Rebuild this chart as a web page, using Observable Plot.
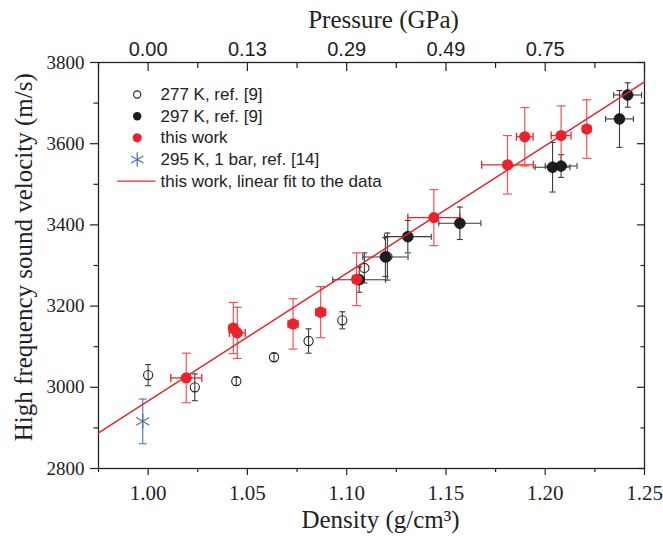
<!DOCTYPE html>
<html><head><meta charset="utf-8">
<script src="https://cdn.jsdelivr.net/npm/d3@7"></script>
<script src="https://cdn.jsdelivr.net/npm/@observablehq/plot@0.6"></script>
<style>body{margin:0;background:#fff}</style>
</head><body><div id="chart"></div>
<script>
// ---- tick values ----
const xMajorTicks = [1.00, 1.05, 1.10, 1.15, 1.20, 1.25];
const xMinorTicks = [0.975, 1.025, 1.075, 1.125, 1.175, 1.225];
const yMajorTicks = [2800, 3000, 3200, 3400, 3600, 3800];
const yMinorTicks = [2900, 3100, 3300, 3500, 3700];
const pressureTickDensity = [1.00, 1.05, 1.10, 1.15, 1.20];
const pressureTickLabels = ["0.00", "0.13", "0.29", "0.49", "0.75"];

// ---- 277 K, ref. [9] (open circles) ----
const k277Density = [1.000, 1.0235, 1.0444, 1.0634, 1.0808, 1.0978, 1.1089, 1.1205];
const k277Velocity = [3030, 3000, 3015, 3074, 3114, 3165, 3294, 3322];
const k277VelErr = [26, 33, 10, 10, 30, 21, 37, 58];

// ---- 297 K, ref. [9] (filled black) ----
const k297Density = [1.1063, 1.1195, 1.1308, 1.1570, 1.2037, 1.2080, 1.2374, 1.2415];
const k297Velocity = [3265, 3321, 3371, 3404, 3542, 3545, 3661, 3720];
const k297DenErr = [0.0133, 0.0114, 0.0118, 0.0106, 0.0088, 0.0080, 0.0070, 0.0070];
const k297VelErr = [31, 48, 40, 40, 61, 28, 70, 30];

// ---- this work (red) ----
const workDensity = [1.0192, 1.0429, 1.0449, 1.0730, 1.0869, 1.1050, 1.1439, 1.1810, 1.1897, 1.2080, 1.2209];
const workVelocity = [3023, 3146, 3134, 3156, 3185, 3266, 3418, 3548, 3617, 3620, 3636];
const workDenErr = [0.0078, 0.0020, 0.0040, 0.0025, 0.0025, 0.0020, 0.0131, 0.0130, 0.0042, 0.0050, 0.0020];
const workVelErr = [61, 63, 63, 62, 63, 65, 69, 72, 72, 73, 72];

// ---- 295 K, 1 bar, ref. [14] (blue asterisk) ----
const refDensity = [0.9973];
const refVelocity = [2916];
const refVelErr = [55];

// ---- linear fit ----
const fitDensity = [0.975, 1.25];
const fitVelocity = [2888, 3752];

// ---- legend ----
const legendLabels = ["277 K, ref. [9]", "297 K, ref. [9]", "this work", "295 K, 1 bar, ref. [14]", "this work, linear fit to the data"];

const rows = (d, v, de, ve) => d.map((x, i) => ({
  d: x, v: v[i],
  dlo: de ? x - de[i] : x, dhi: de ? x + de[i] : x,
  vlo: v[i] - (ve ? ve[i] : 0), vhi: v[i] + (ve ? ve[i] : 0)
}));
const open = rows(k277Density, k277Velocity, null, k277VelErr);
const black = rows(k297Density, k297Velocity, k297DenErr, k297VelErr);
const red = rows(workDensity, workVelocity, workDenErr, workVelErr);
const blue = rows(refDensity, refVelocity, null, refVelErr);
const fit = fitDensity.map((d, i) => ({d, v: fitVelocity[i]}));

const hLine = {draw(c, s) { const r = Math.sqrt(s / Math.PI); c.moveTo(-r, 0); c.lineTo(r, 0); }};
const vLine = {draw(c, s) { const r = Math.sqrt(s / Math.PI); c.moveTo(0, -r); c.lineTo(0, r); }};

const RED = "#e8242a", REDBAR = "#ee5358", BLK = "#1e1e1e", BLKBAR = "#3a3a3a", BLUE = "#5270b8";
const serif = "Liberation Serif, Times New Roman, serif";
const sans = "Liberation Sans, Arial, sans-serif";

function vErrMarks(data, color, cap, w) {
  const caps = data.flatMap(r => [{d: r.d, v: r.vlo}, {d: r.d, v: r.vhi}]);
  return [
    Plot.ruleX(data, {x: "d", y1: "vlo", y2: "vhi", stroke: color, strokeWidth: w}),
    Plot.dot(caps, {x: "d", y: "v", symbol: hLine, r: cap, stroke: color, fill: "none", strokeWidth: w})
  ];
}
function hErrMarks(data, color, cap, w) {
  const caps = data.flatMap(r => [{d: r.dlo, v: r.v}, {d: r.dhi, v: r.v}]);
  return [
    Plot.ruleY(data, {y: "v", x1: "dlo", x2: "dhi", stroke: color, strokeWidth: w}),
    Plot.dot(caps, {x: "d", y: "v", symbol: vLine, r: cap, stroke: color, fill: "none", strokeWidth: w})
  ];
}

const legendDy = [32, 53.7, 75.3, 97, 118.7];
const legendMarks = [];
legendLabels.forEach((t, i) => {
  legendMarks.push(Plot.text([t], {text: d => d, frameAnchor: "top-left", dx: 62, dy: legendDy[i], textAnchor: "start", lineAnchor: "middle", fontSize: 17, fontFamily: sans, fill: "#222"}));
});
const sym = (opts, i) => Plot.dot([0], {frameAnchor: "top-left", dx: 38.7, dy: legendDy[i], ...opts});
legendMarks.push(
  sym({r: 3.6, stroke: "#222", fill: "none", strokeWidth: 1.1}, 0),
  sym({r: 4.2, fill: BLK, stroke: "none"}, 1),
  sym({r: 4.6, fill: RED, stroke: "none"}, 2),
  sym({symbol: "asterisk", r: 6.8, stroke: BLUE, strokeWidth: 1.2}, 3),
  Plot.dot([0], {frameAnchor: "top-left", dx: 37.8, dy: legendDy[4], symbol: hLine, r: 19.2, stroke: RED, strokeWidth: 1.3, fill: "none"})
);

const chart = Plot.plot({
  width: 663, height: 536,
  marginLeft: 98, marginRight: 19, marginTop: 62, marginBottom: 68,
  x: {domain: [0.975, 1.25]},
  y: {domain: [2800, 3800]},
  style: {background: "white", color: "#222", overflow: "visible"},
  marks: [
    // axes: bottom
    Plot.axisX({anchor: "bottom", ticks: xMajorTicks, tickSize: 7, tickFormat: () => "", label: null, strokeWidth: 1.2}),
    Plot.axisX({anchor: "bottom", ticks: xMinorTicks, tickSize: 4, tickFormat: () => "", label: null, strokeWidth: 1.2}),
    Plot.axisX({anchor: "bottom", ticks: xMajorTicks, tickSize: 0, tickPadding: 16.4, tickFormat: d => d.toFixed(2), label: null, fontSize: 21, fontFamily: serif}),
    // top (inward ticks, pressure labels)
    Plot.axisX({anchor: "top", ticks: xMajorTicks, tickSize: 8, dy: 8, tickFormat: () => "", label: null, strokeWidth: 1.2}),
    Plot.axisX({anchor: "top", ticks: xMinorTicks, tickSize: 5, dy: 5, tickFormat: () => "", label: null, strokeWidth: 1.2}),
    Plot.axisX({anchor: "top", ticks: pressureTickDensity, tickSize: 0, tickPadding: 7, tickFormat: (d, i) => pressureTickLabels[i], label: null, fontSize: 20, fontFamily: sans}),
    // left
    Plot.axisY({anchor: "left", ticks: yMajorTicks, tickSize: 8, tickFormat: () => "", label: null, strokeWidth: 1.2}),
    Plot.axisY({anchor: "left", ticks: yMinorTicks, tickSize: 4.5, tickFormat: () => "", label: null, strokeWidth: 1.2}),
    Plot.axisY({anchor: "left", ticks: yMajorTicks, tickSize: 0, tickPadding: 14, tickFormat: d => String(d), label: null, fontSize: 19, fontFamily: serif}),
    // right (inward)
    Plot.axisY({anchor: "right", ticks: yMajorTicks, tickSize: 8, dx: -8, tickFormat: () => "", label: null, strokeWidth: 1.2}),
    Plot.axisY({anchor: "right", ticks: yMinorTicks, tickSize: 4.5, dx: -4.5, tickFormat: () => "", label: null, strokeWidth: 1.2}),
    Plot.frame({stroke: "#222", strokeWidth: 1.3}),
    // titles
    Plot.text(["Density (g/cm³)"], {text: d => d, frameAnchor: "bottom", dx: 9, dy: 59, textAnchor: "middle", lineAnchor: "bottom", fontSize: 25, fontFamily: serif, fill: "#222"}),
    Plot.text(["Pressure (GPa)"], {text: d => d, frameAnchor: "top", dx: 12, dy: -35, textAnchor: "middle", lineAnchor: "bottom", fontSize: 25, fontFamily: serif, fill: "#222"}),
    Plot.text(["High frequency sound velocity (m/s)"], {text: d => d, frameAnchor: "left", rotate: -90, dx: -66.3, dy: -8.3, textAnchor: "middle", lineAnchor: "bottom", fontSize: 25, fontFamily: serif, fill: "#222"}),
    // error bars
    ...vErrMarks(open, BLKBAR, 3, 1.1),
    ...hErrMarks(black, BLKBAR, 3, 1.1),
    ...vErrMarks(black, BLKBAR, 3, 1.1),
    ...vErrMarks(blue, BLUE, 4, 1.1),
    ...vErrMarks(red, REDBAR, 4.5, 1.2),
    ...hErrMarks(red, RED, 4, 1.3),
    // points
    Plot.dot(open, {x: "d", y: "v", r: 4.6, stroke: "#222", fill: "none", strokeWidth: 1.1}),
    Plot.dot(black, {x: "d", y: "v", r: 5.4, fill: BLK, stroke: "#000", strokeWidth: 0.6}),
    Plot.dot(red, {x: "d", y: "v", r: 5.6, fill: RED, stroke: "none"}),
    Plot.dot(blue, {x: "d", y: "v", symbol: "asterisk", r: 7.2, stroke: BLUE, strokeWidth: 1.2}),
    // fit line
    Plot.line(fit, {x: "d", y: "v", stroke: RED, strokeWidth: 1.5}),
    ...legendMarks
  ]
});
document.getElementById("chart").append(chart);
</script>
</body></html>
